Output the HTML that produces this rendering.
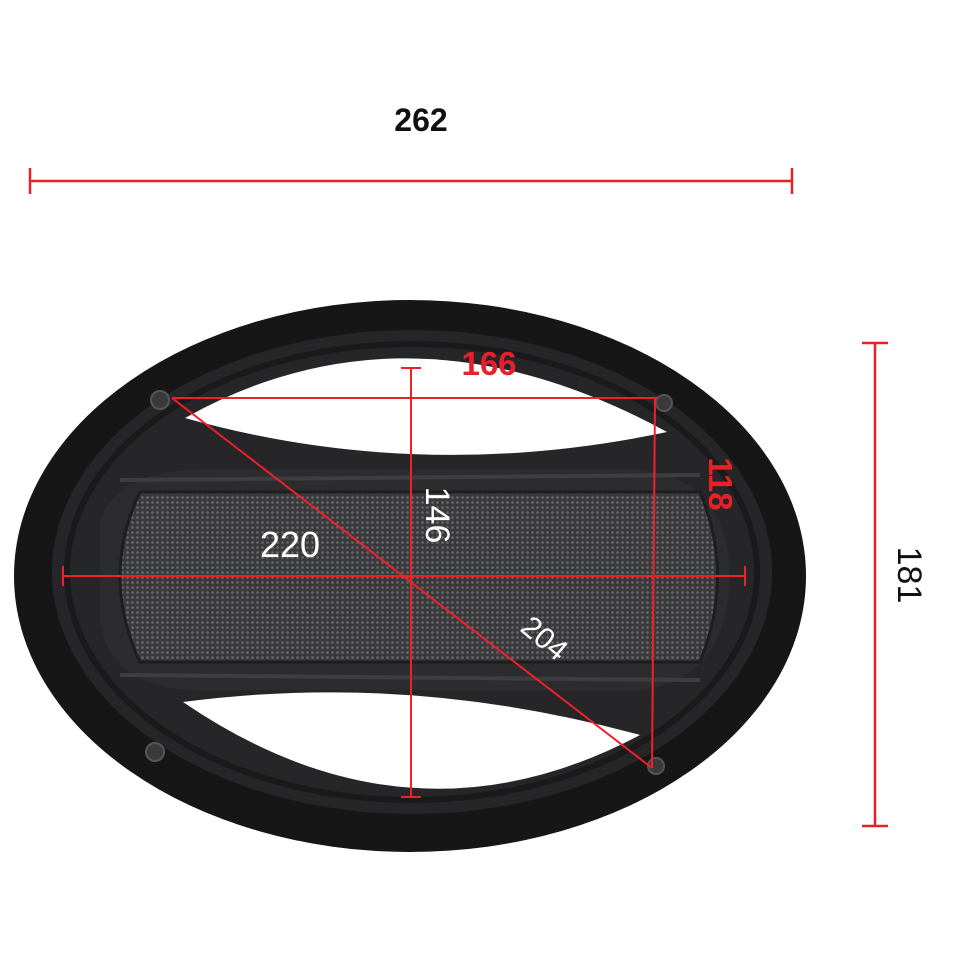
<!DOCTYPE html>
<html><head><meta charset="utf-8"><style>
html,body{margin:0;padding:0;background:#fff;}
svg{display:block}
text{font-family:"Liberation Sans","DejaVu Sans",sans-serif;}
</style></head><body>
<svg width="960" height="960" viewBox="0 0 960 960" xmlns="http://www.w3.org/2000/svg">
<defs>
<pattern id="mesh" width="5" height="5" patternUnits="userSpaceOnUse">
<rect width="5" height="5" fill="#3a3a3c"/>
<circle cx="2.5" cy="2.5" r="1.3" fill="#6a6a6c"/>
</pattern>
</defs>
<rect width="960" height="960" fill="#fff"/>
<ellipse cx="410" cy="576" rx="396" ry="276" fill="#161617"/>
<ellipse cx="412" cy="572" rx="360" ry="242" fill="#262628"/>
<ellipse cx="412" cy="572" rx="345" ry="228" fill="none" stroke="#1a1a1b" stroke-width="6"/>
<path d="M100,520 Q120,470 200,470 L640,470 Q730,480 730,580 Q725,680 640,690 L200,690 Q110,690 100,620 Z" fill="#2c2c2e"/>
<path d="M185,418 Q410,292 667,432 Q420,484 185,418 Z" fill="#fff"/>
<path d="M183,702 Q410,672 640,735 Q410,857 183,702 Z" fill="#fff"/>
<path d="M140,492 L700,492 Q735,576 700,662 L140,662 Q100,576 140,492 Z" fill="url(#mesh)"/>
<path d="M140,492 L700,492 Q735,576 700,662 L140,662 Q100,576 140,492 Z" fill="none" stroke="#1e1e1f" stroke-width="3"/>
<path d="M120,480 L700,475 M120,675 L700,680" stroke="#3e3e40" stroke-width="4" fill="none"/>
<g fill="#3a3a3c" stroke="#555" stroke-width="2">
<circle cx="160" cy="400" r="9"/><circle cx="664" cy="403" r="8"/>
<circle cx="155" cy="752" r="9"/><circle cx="656" cy="766" r="8"/>
</g>
<g stroke="#e8202a" stroke-width="2.5" fill="none">
<line x1="30" y1="181" x2="792" y2="181"/>
<line x1="30" y1="168" x2="30" y2="194"/>
<line x1="792" y1="168" x2="792" y2="194"/>
<line x1="875" y1="343" x2="875" y2="826"/>
<line x1="862" y1="343" x2="888" y2="343"/>
<line x1="862" y1="826" x2="888" y2="826"/>
</g>
<g stroke="#f0202a" stroke-width="2" fill="none">
<line x1="172" y1="398" x2="657" y2="398"/>
<line x1="655" y1="398" x2="652" y2="768"/>
<line x1="172" y1="398" x2="652" y2="768"/>
<line x1="411" y1="368" x2="411" y2="797"/>
<line x1="401" y1="368" x2="421" y2="368"/>
<line x1="401" y1="797" x2="421" y2="797"/>
<line x1="63" y1="576" x2="745" y2="576"/>
<line x1="63" y1="566" x2="63" y2="586"/>
<line x1="745" y1="566" x2="745" y2="586"/>
</g>
<text x="421" y="131" font-size="32" font-weight="bold" fill="#111" text-anchor="middle">262</text>
<text x="0" y="0" font-size="34" fill="#111" text-anchor="middle" transform="translate(898,575) rotate(90)">181</text>
<text x="489" y="375" font-size="33" font-weight="bold" fill="#e8202a" text-anchor="middle">166</text>
<text x="0" y="0" font-size="33" font-weight="bold" fill="#e8202a" text-anchor="middle" transform="translate(709,484) rotate(90)">118</text>
<text x="0" y="0" font-size="34" fill="#fff" text-anchor="middle" transform="translate(426,515) rotate(90)">146</text>
<text x="290" y="557" font-size="36" fill="#fff" text-anchor="middle">220</text>
<text x="0" y="0" font-size="30" fill="#fff" text-anchor="middle" transform="translate(538,646) rotate(40)">204</text>
</svg>
</body></html>
